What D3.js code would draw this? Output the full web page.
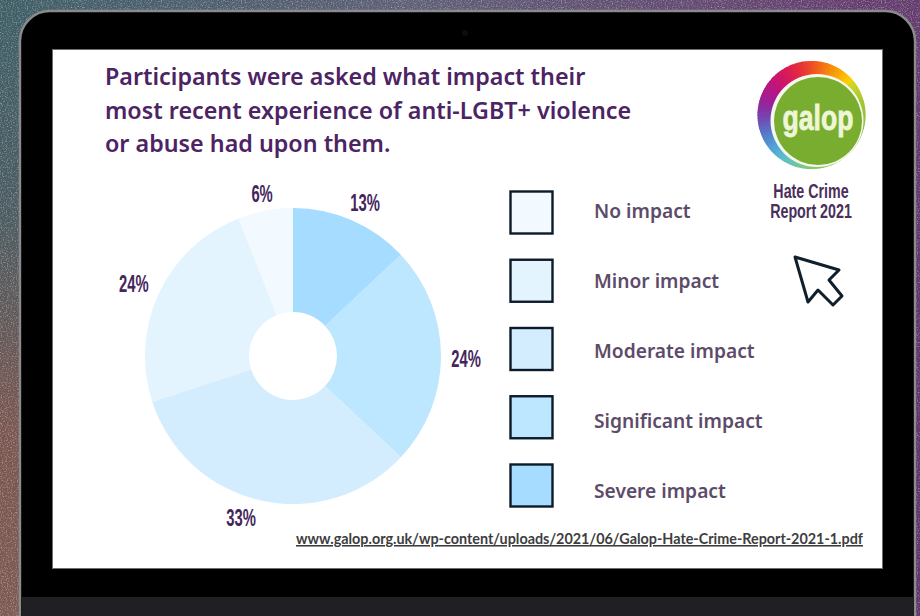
<!DOCTYPE html>
<html>
<head>
<meta charset="utf-8">
<script src="https://cdn.jsdelivr.net/npm/d3@7/dist/d3.min.js"></script>
<style>
html,body{margin:0;padding:0;background:#000;overflow:hidden}
svg{display:block}
</style>
</head>
<body>
<svg id="chart" width="920" height="616"></svg>
<script>
// Survey answers, clockwise from twelve o'clock
const impactLabels = ["Severe impact","Significant impact","Moderate impact","Minor impact","No impact"];
const impactShares = [13,24,33,24,6];
const sliceColors = ["#a6dcff","#bde6ff","#d3edff","#e3f4ff","#f2faff"];
const legendOrder = ["No impact","Minor impact","Moderate impact","Significant impact","Severe impact"];
const titleLines = ["Participants were asked what impact their","most recent experience of anti-LGBT+ violence","or abuse had upon them."];
const sourceUrl = "www.galop.org.uk/wp-content/uploads/2021/06/Galop-Hate-Crime-Report-2021-1.pdf";
const reportLines = ["Hate Crime","Report 2021"];

const svg = d3.select("#chart");
const defs = svg.append("defs");

// Speckled, multi-coloured backdrop behind the laptop
const bg = defs.append("linearGradient").attr("id","backdrop")
  .attr("x1","0").attr("y1","0").attr("x2","1").attr("y2","0.55");
[[0,"#3f5f66"],[0.35,"#5f5f76"],[0.7,"#65406f"],[1,"#5d3568"]].forEach(([o,c])=>
  bg.append("stop").attr("offset",o).attr("stop-color",c));
const bgLeft = defs.append("linearGradient").attr("id","backdropLeft")
  .attr("x1","0").attr("y1","0").attr("x2","0").attr("y2","1");
[[0,"#3f5f66"],[0.35,"#4c5c62"],[0.7,"#7a5650"],[1,"#7c5a52"]].forEach(([o,c])=>
  bgLeft.append("stop").attr("offset",o).attr("stop-color",c));
const grain = defs.append("filter").attr("id","grain").attr("x",0).attr("y",0).attr("width",1).attr("height",1);
grain.append("feTurbulence").attr("type","fractalNoise").attr("baseFrequency",0.8).attr("numOctaves",2).attr("seed",4);
grain.append("feColorMatrix").attr("type","matrix")
  .attr("values","0 0 0 0 1  0 0 0 0 1  0 0 0 0 1  0 0 0 2.2 -1.05");

svg.append("rect").attr("width",920).attr("height",616).attr("fill","url(#backdrop)");
svg.append("rect").attr("width",22).attr("height",616).attr("fill","url(#backdropLeft)");
svg.append("rect").attr("width",920).attr("height",616).attr("filter","url(#grain)").attr("opacity",0.45);

// Laptop body
svg.append("rect").attr("x",20).attr("y",11).attr("width",895).attr("height",640).attr("rx",30)
  .attr("fill","#000").attr("stroke","#8b8b8d").attr("stroke-width",2.4);
svg.append("rect").attr("x",22).attr("y",597).attr("width",891).attr("height",19).attr("fill","#1f1f24");
svg.append("circle").attr("cx",465).attr("cy",33).attr("r",3).attr("fill","#0d0d0f");

// Screen
svg.append("rect").attr("x",52.5).attr("y",49.5).attr("width",830).attr("height",519)
  .attr("fill","#fff").attr("stroke","#6d6d6d").attr("stroke-width",1);

// Heading
svg.append("g").selectAll("text").data(titleLines).join("text")
  .attr("x",105).attr("y",(d,i)=>85+i*33.5)
  .attr("font-family","'Noto Sans'").attr("font-weight",600).attr("font-size",23.3)
  .attr("fill","#4c2363").text(d=>d);

// Pie
const cx = 293, cy = 356, outerR = 148, innerR = 44, labelR = 170;
const pie = d3.pie().sort(null).value(d=>d);
const arcs = pie(impactShares);
const arc = d3.arc().innerRadius(innerR).outerRadius(outerR);
const pieG = svg.append("g").attr("transform",`translate(${cx},${cy})`);
pieG.selectAll("path").data(arcs).join("path")
  .attr("d",arc).attr("fill",(d,i)=>sliceColors[i]);

// Percentage labels sit on a ring outside the pie, turned a little so they clear the edge.
// The display face is tall and tight, so the bold sans is squeezed horizontally.
const labelTurn = [0.03,0.015,0.09,-0.01,0];
const labelGrow = [0,3,0,5,-5];
pieG.selectAll("text").data(arcs).join("text")
  .attr("transform",(d,i)=>{
    const a = (d.startAngle+d.endAngle)/2 + labelTurn[i];
    const r = labelR + labelGrow[i];
    return `translate(${Math.sin(a)*r},${-Math.cos(a)*r}) scale(0.63,1)`;
  })
  .attr("text-anchor","middle").attr("dy","0.36em")
  .attr("font-family","'Liberation Sans'").attr("font-weight",700).attr("font-size",23.5)
  .attr("fill","#45265c").text(d=>d.value+"%");

// Legend: swatches and their captions step at slightly different rates
const swatchY = d3.scalePoint().domain(legendOrder).range([191,464]);
const captionY = d3.scalePoint().domain(legendOrder).range([218,498]);
const colorOf = d3.scaleOrdinal().domain(impactLabels).range(sliceColors);
const legend = svg.append("g");
legend.selectAll("rect").data(legendOrder).join("rect")
  .attr("x",510.5).attr("y",d=>swatchY(d)+0.5).attr("width",42).attr("height",42)
  .attr("fill",d=>colorOf(d)).attr("stroke","#0c1a29").attr("stroke-width",2.4);
legend.selectAll("text").data(legendOrder).join("text")
  .attr("x",594).attr("y",d=>captionY(d))
  .attr("font-family","'Noto Sans'").attr("font-weight",600).attr("font-size",19.2)
  .attr("fill","#5d4c69").text(d=>d);

// Source link
svg.append("text").attr("x",296).attr("y",544)
  .attr("font-family","Lato").attr("font-weight",700).attr("font-size",15.5)
  .attr("textLength",567).attr("lengthAdjust","spacingAndGlyphs")
  .attr("text-decoration","underline").attr("fill","#3d3d40").text(sourceUrl);

// Logo: rainbow disc with an off-centre green badge
const ringStops = ["#ffd400","#f5800a","#e8203a","#c8107a","#8f1fa0","#4a80cc","#55c6e6","#8fc860","#8dbf3a","#8dbf3a","#8dbf3a","#d8d820"];
const ringColor = d3.interpolateRgbBasis(ringStops);
const logo = svg.append("g").attr("transform","translate(811.5,115)");
const wedge = d3.arc().innerRadius(0).outerRadius(54);
d3.range(120).forEach(i=>{
  logo.append("path")
    .attr("d",wedge({startAngle:0.85-i/120*2*Math.PI-0.03,endAngle:0.85-(i-1)/120*2*Math.PI}))
    .attr("fill",ringColor(i/120));
});
svg.append("circle").attr("cx",817).attr("cy",120.5).attr("r",46.5).attr("fill","#f4f8ee");
svg.append("circle").attr("cx",818).attr("cy",121).attr("r",44).attr("fill","#79ad2f");
svg.append("text").attr("x",818).attr("y",130).attr("text-anchor","middle")
  .attr("font-family","'Liberation Sans'").attr("font-weight",700).attr("font-size",35)
  .attr("textLength",71).attr("lengthAdjust","spacingAndGlyphs")
  .attr("fill","#eef6d8").attr("stroke","#eef6d8").attr("stroke-width",0.8).text("galop");
svg.append("g").selectAll("text").data(reportLines).join("text")
  .attr("transform",(d,i)=>`translate(811,${198+i*20}) scale(0.68,1)`).attr("text-anchor","middle")
  .attr("font-family","'Liberation Sans'").attr("font-weight",700).attr("font-size",21)
  .attr("fill","#4a2f5c").text(d=>d);

// Pointer icon
const pointer = d3.line().curve(d3.curveLinearClosed);
svg.append("path")
  .attr("d",pointer([[795,257],[839,270],[829,280],[842,296],[833,305],[818,290],[808,302]]))
  .attr("fill","#fff").attr("stroke","#0f1f2c").attr("stroke-width",3).attr("stroke-linejoin","round");
</script>
</body>
</html>
